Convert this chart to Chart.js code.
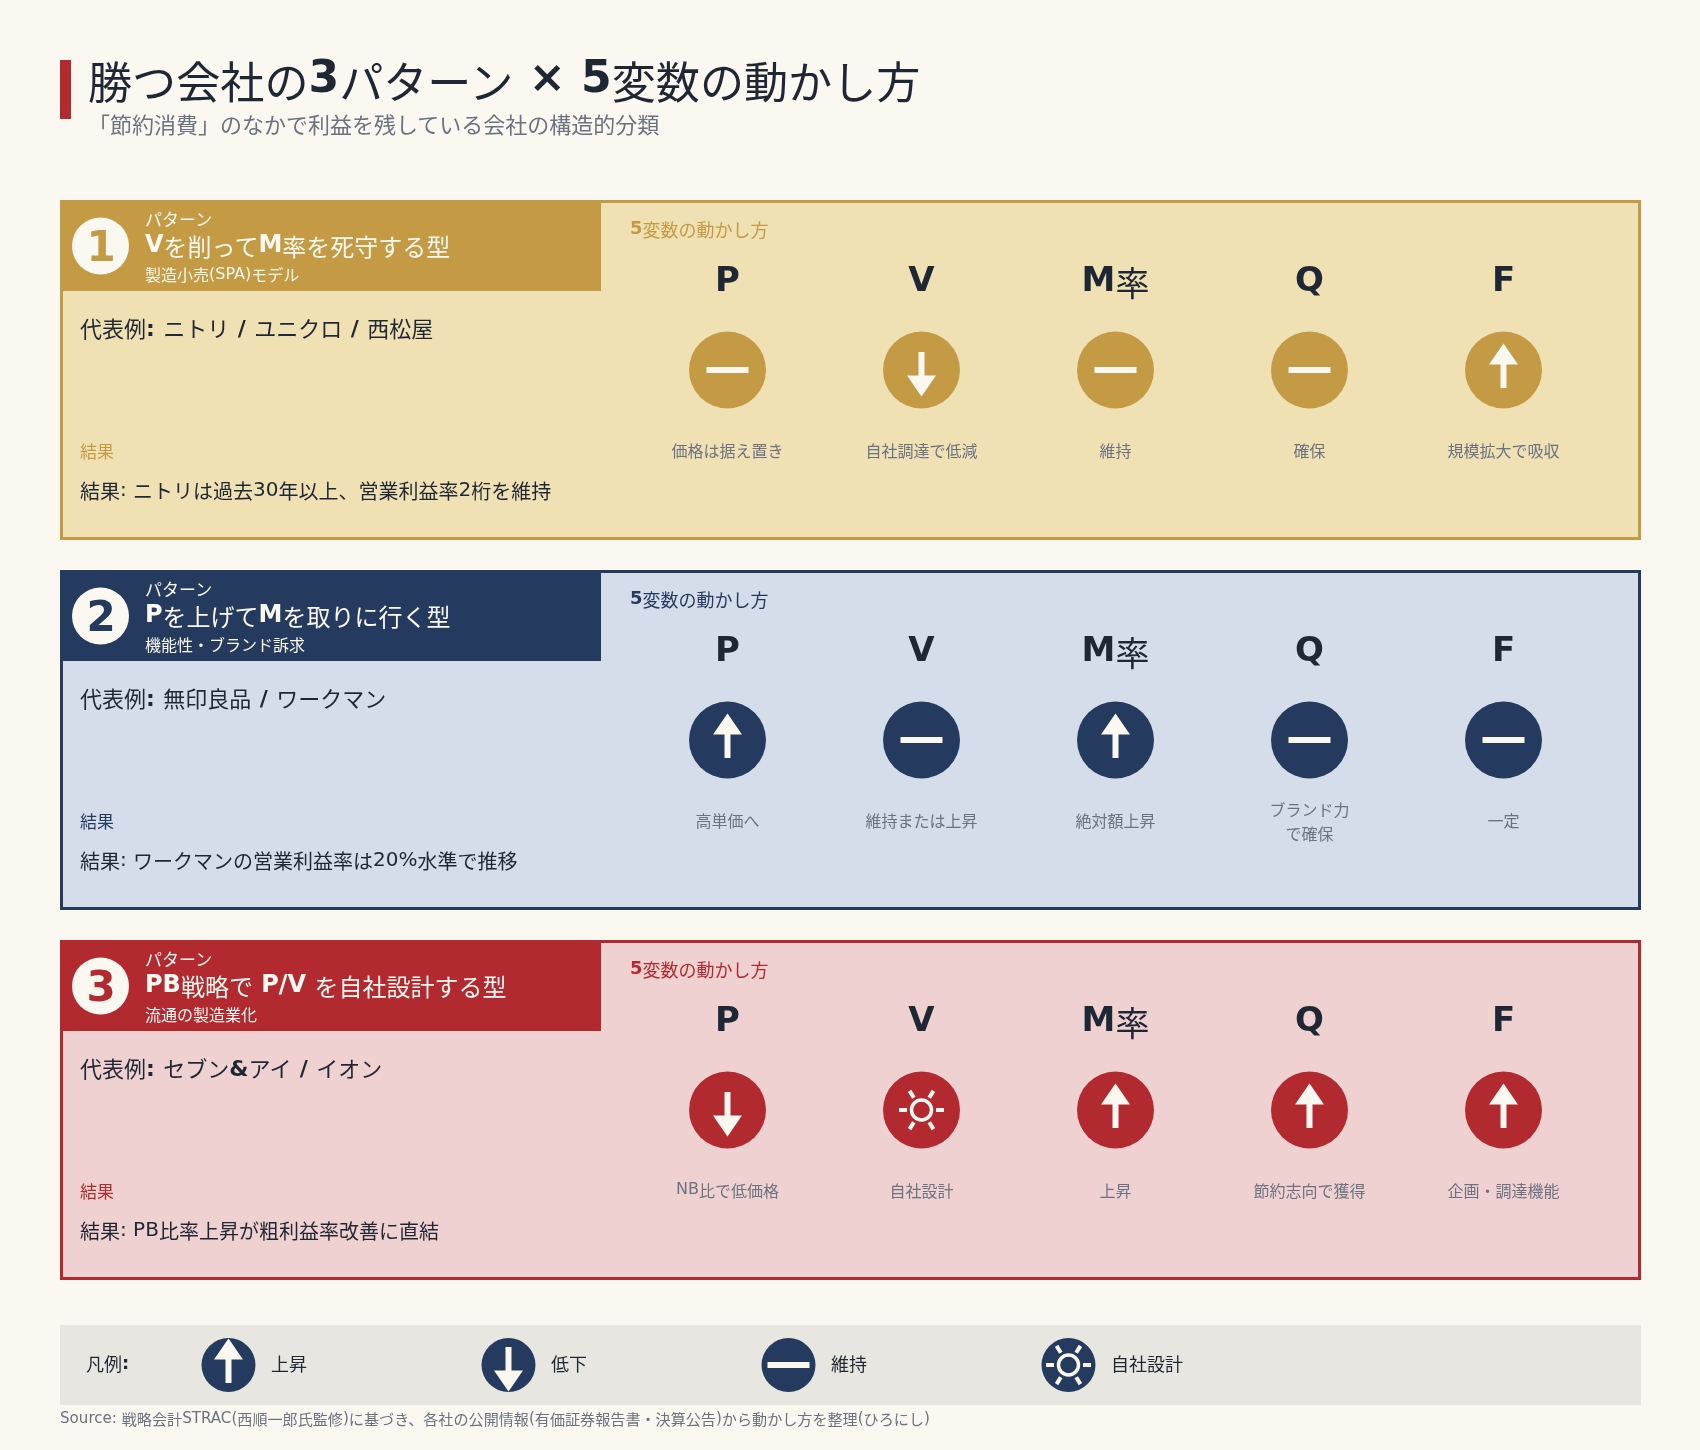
<!DOCTYPE html>
<html lang="ja"><head><meta charset="utf-8">
<script src="https://cdn.jsdelivr.net/npm/chart.js@4"></script>
<style>
html,body{margin:0;padding:0;background:#fbf8f1;}
#wrap{position:relative;width:1700px;height:1450px;overflow:hidden;}
#c{position:absolute;left:0;top:0;}
.t{position:absolute;white-space:pre;left:0;top:0;}
.t span{font-family:"DejaVu Sans",sans-serif;}
.t span.j{font-family:"Noto Sans CJK JP",sans-serif;font-weight:400;position:relative;}
.t i{display:inline-block;width:0;height:0;}
</style></head><body>
<div id="wrap"><canvas id="c" width="1700" height="1450"></canvas></div>
<script>
const titleText='勝つ会社の3パターン × 5変数の動かし方';
const subtitleText='「節約消費」のなかで利益を残している会社の構造的分類';
const variables=['P','V','M率','Q','F'];
const patterns=['1','2','3'];
const patternNames=['Vを削ってM率を死守する型','Pを上げてMを取りに行く型','PB戦略で P/V を自社設計する型'];
const patternSubs=['製造小売(SPA)モデル','機能性・ブランド訴求','流通の製造業化'];
const examples=['代表例: ニトリ / ユニクロ / 西松屋','代表例: 無印良品 / ワークマン','代表例: セブン&アイ / イオン'];
const results=['結果: ニトリは過去30年以上、営業利益率2桁を維持','結果: ワークマンの営業利益率は20%水準で推移','結果: PB比率上昇が粗利益率改善に直結'];
const moves1=['flat','down','flat','flat','up'];
const moves2=['up','flat','up','flat','flat'];
const moves3=['down','design','up','up','up'];
const notes1=['価格は据え置き','自社調達で低減','維持','確保','規模拡大で吸収'];
const notes2=['高単価へ','維持または上昇','絶対額上昇','ブランド力\nで確保','一定'];
const notes3=['NB比で低価格','自社設計','上昇','節約志向で獲得','企画・調達機能'];
const legendKeys=['up','down','flat','design'];
const legendLabels=['上昇','低下','維持','自社設計'];
const sourceText='Source: 戦略会計STRAC(西順一郎氏監修)に基づき、各社の公開情報(有価証券報告書・決算公告)から動かし方を整理(ひろにし)';

const strong=['#C49A45','#243A5E','#B22A30'];
const pale=['#F0E1B5','#D4DDE9','#F0D1D1'];
const cream='#FBF8F1',ink='#1E2733',gray='#6B7280';
const allMoves=[moves1,moves2,moves3], allNotes=[notes1,notes2,notes3];
const wrap=document.getElementById('wrap');

function runs(s){return s.match(/[\u0000-\u02ff]+|[^\u0000-\u02ff]+/g)||[];}
function text(str,x,y,size,color,o={}){
  const d=document.createElement('div');d.className='t';
  d.style.fontSize=size+'px';d.style.color=color;d.style.lineHeight='1.2';
  if(o.ws) d.style.wordSpacing=o.ws+'px';
  const mark=document.createElement('i');d.appendChild(mark);
  for(const r of runs(str)){
    const s=document.createElement('span');s.textContent=r;
    if(/^[\u0000-\u02ff]/.test(r)){ if(o.bold) s.style.fontWeight='700'; }
    else { s.className='j'; s.style.top=(o.drop===undefined?0.16:o.drop)+'em'; }
    d.appendChild(s);
  }
  wrap.appendChild(d);
  const b=mark.getBoundingClientRect().bottom, w=d.getBoundingClientRect().width;
  d.style.top=(y-b)+'px';
  d.style.left=(o.center?x-w/2:x)+'px';
}
function makeIcon(kind,color,r){
  const c=document.createElement('canvas');c.width=81;c.height=80;
  const g=c.getContext('2d');g.translate(40.5,40);
  g.fillStyle=color;g.beginPath();g.arc(0,0,r,0,Math.PI*2);g.fill();
  g.fillStyle=cream;g.strokeStyle=cream;
  if(kind==='flat'){g.fillRect(-21,-3,42,6);}
  if(kind==='up'||kind==='down'){
    const f=kind==='up'?1:-1;
    g.fillRect(-3,f>0?-6:-18,6,24);
    g.beginPath();g.moveTo(0,-26.5*f);g.lineTo(14.5,-5.5*f);g.lineTo(-14.5,-5.5*f);g.closePath();g.fill();
  }
  if(kind==='design'){
    g.lineWidth=3.5;g.beginPath();g.arc(0,0,10,0,Math.PI*2);g.stroke();
    g.lineWidth=4;
    for(const a of [0,58,122,180,238,302]){
      const t=a*Math.PI/180;
      g.beginPath();g.moveTo(14.5*Math.cos(t),14.5*Math.sin(t));g.lineTo(22.5*Math.cos(t),22.5*Math.sin(t));g.stroke();
    }
  }
  return c;
}
const iconCache={};
function icon(kind,color,r){const k=kind+color+r;return iconCache[k]||(iconCache[k]=makeIcon(kind,color,r));}

const panelTops=[200,570,940];
const panelPlugin={id:'panels',beforeDatasetsDraw(chart){
  const g=chart.ctx;g.save();
  g.fillStyle='#B22A30';g.fillRect(60,60,11,59);
  panelTops.forEach((top,i)=>{
    g.fillStyle=pale[i];g.fillRect(60,top,1581,340);
    g.strokeStyle=strong[i];g.lineWidth=3;g.strokeRect(61.5,top+1.5,1578,337);
    g.fillStyle=strong[i];g.fillRect(60,top,541,91);
    g.fillStyle=cream;g.beginPath();g.arc(100.5,top+46,28.5,0,Math.PI*2);g.fill();
  });
  g.fillStyle='#E7E6E0';g.fillRect(60,1325,1581,80);
  legendKeys.forEach((k,i)=>g.drawImage(icon(k,strong[1],27),228.5+280*i-40.5,1365-40));
  g.restore();
}};

const datasets=patterns.map((p,r)=>({
  data:variables.map(v=>({x:v,y:p})),
  pointStyle:allMoves[r].map(k=>icon(k,strong[r],38.5)),
  pointRadius:38,pointHoverRadius:38
}));
const chart=new Chart(document.getElementById('c'),{
  type:'scatter',
  data:{datasets},
  plugins:[panelPlugin],
  options:{
    responsive:false,animation:false,events:[],
    layout:{padding:{left:630.5,right:99.5,top:185,bottom:155}},
    plugins:{legend:{display:false},tooltip:{enabled:false},title:{display:false}},
    scales:{
      x:{type:'category',labels:variables,offset:true,display:false},
      y:{type:'category',labels:patterns,offset:true,display:false}
    }
  }
});

text(titleText,88,92,44.1,ink,{bold:true});
text(subtitleText,88,129,22,gray);
patterns.forEach((p,r)=>{
  const top=panelTops[r];
  text('パターン',145,top+23,17,cream);
  text(patternNames[r],145,top+52,24,cream,{bold:true});
  text(patternSubs[r],145,top+79,16,cream,{drop:0.1});
  text(p,101,top+61,42,strong[r],{bold:true,center:true});
  text(examples[r],80,top+135.5,22,ink,{bold:true,drop:0.08,ws:0.8});
  text('結果',80,top+255,17,strong[r]);
  text(results[r],80,top+296,20,ink);
  text('5変数の動かし方',630,top+34,18,strong[r],{bold:true});
  variables.forEach((v,i)=>{
    const x=chart.scales.x.getPixelForValue(i);
    text(v,x,top+91,34,ink,{bold:true,center:true});
    const lines=allNotes[r][i].split('\n');
    const y0=lines.length>1?top+243:top+254;
    lines.forEach((l,j)=>text(l,x,y0+j*24,16,gray,{center:true}));
  });
});
text('凡例:',86,1368.5,18,ink,{bold:true});
legendLabels.forEach((l,i)=>text(l,271+280*i,1368.5,18,ink));
text(sourceText,60,1423,15.1,gray);
</script>
</body></html>
